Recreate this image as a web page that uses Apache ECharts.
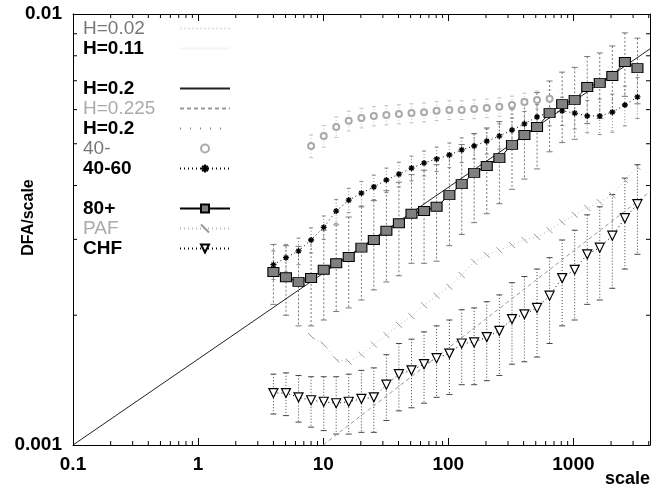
<!DOCTYPE html>
<html><head><meta charset="utf-8">
<script src="https://cdn.jsdelivr.net/npm/echarts@6/dist/echarts.min.js"></script>
<style>html,body{margin:0;padding:0;background:#fff}#c{width:653px;height:490px}</style>
</head><body><div id="c"></div>
<script>
// ---- data ----
const scales = [4, 5.04, 6.35, 8, 10.1, 12.7, 16, 20.2, 25.4, 32, 40.3, 50.8, 64, 80.6, 102, 128, 161, 203, 256, 323, 406, 512, 645, 813, 1024, 1290, 1625, 2048, 2580, 3251];
const scales40 = [8, 10.1, 12.7, 16, 20.2, 25.4, 32, 40.3, 50.8, 64, 80.6, 102, 128, 161, 203, 256, 323, 406, 512, 645];
const scalesPAF = [8, 10.1, 12.7, 16, 20.2, 25.4, 32, 40.3, 50.8, 64, 80.6, 102, 128, 161, 203, 256, 323, 406, 512, 645, 813, 1024, 1290, 1625, 2048, 2580, 3251];

const g40 = [0.00494, 0.00521, 0.00547, 0.00565, 0.00574, 0.00580, 0.00583, 0.00586, 0.00589, 0.00592, 0.00596, 0.00599, 0.00599, 0.00602, 0.00605, 0.00609, 0.00615, 0.00625, 0.00632, 0.00636];
const g40err = [0.0003, 0.0003, 0.0003, 0.0003, 0.0003, 0.0003, 0.0003, 0.0003, 0.0003, 0.0003, 0.0003, 0.0003, 0.0003, 0.0003, 0.0003, 0.0003, 0.0003, 0.0003, 0.0003, 0.0003];
const g4060 = [0.00262, 0.00272, 0.00282, 0.00299, 0.00320, 0.00349, 0.00370, 0.00384, 0.00397, 0.00412, 0.00425, 0.00439, 0.00451, 0.00461, 0.00471, 0.00484, 0.00494, 0.00507, 0.00521, 0.00538, 0.00556, 0.00577, 0.00592, 0.00596, 0.00589, 0.00580, 0.00580, 0.00592, 0.00615, 0.00642];
const g4060err = [0.0002, 0.0002, 0.0002, 0.0002, 0.0002, 0.00022, 0.00024, 0.00025, 0.00026, 0.00027, 0.00028, 0.00029, 0.0003, 0.0003, 0.00031, 0.00032, 0.00033, 0.00034, 0.00035, 0.00036, 0.00038, 0.0004, 0.00042, 0.00045, 0.00048, 0.0005, 0.00055, 0.0006, 0.00065, 0.0007];
const g80 = [0.00252, 0.00245, 0.00239, 0.00244, 0.00255, 0.00264, 0.00273, 0.00287, 0.00299, 0.00314, 0.00327, 0.00344, 0.00349, 0.00357, 0.00380, 0.00403, 0.00428, 0.00444, 0.00463, 0.00497, 0.00524, 0.00547, 0.00589, 0.00618, 0.00632, 0.00677, 0.00692, 0.00718, 0.00774, 0.00749];
const g80err = [0.0004, 0.00045, 0.0005, 0.00055, 0.0006, 0.0006, 0.00065, 0.0007, 0.0007, 0.00075, 0.0008, 0.0008, 0.00085, 0.0009, 0.0009, 0.00095, 0.001, 0.001, 0.001, 0.00105, 0.0011, 0.0011, 0.0011, 0.00115, 0.0012, 0.0012, 0.0012, 0.00125, 0.0013, 0.0013];
const paf = [0.00179, 0.00171, 0.00158, 0.00156, 0.00162, 0.00171, 0.00180, 0.00190, 0.00199, 0.00211, 0.00222, 0.00233, 0.00248, 0.00266, 0.00276, 0.00283, 0.00291, 0.00299, 0.00304, 0.00315, 0.00329, 0.00342, 0.00355, 0.00366, 0.00380, 0.00412, 0.00442];
const chf = [0.00132, 0.00132, 0.00129, 0.00127, 0.00126, 0.00125, 0.00126, 0.00128, 0.00129, 0.00138, 0.00146, 0.00149, 0.00154, 0.00159, 0.00163, 0.00172, 0.00173, 0.00178, 0.00184, 0.00196, 0.00201, 0.00208, 0.00222, 0.00244, 0.00255, 0.00277, 0.00287, 0.00306, 0.00336, 0.00362];
const chfErr = [0.00014, 0.00015, 0.00016, 0.00017, 0.00018, 0.00019, 0.0002, 0.00021, 0.00022, 0.00024, 0.00026, 0.00027, 0.00029, 0.0003, 0.00032, 0.00034, 0.00035, 0.00037, 0.00039, 0.00042, 0.00045, 0.00048, 0.0005, 0.00055, 0.0006, 0.00065, 0.0007, 0.00075, 0.0008, 0.00085];

// fitted power-law guide lines (end points)
const fit02X = [0.1, 4096];
const fit02Y = [0.001, 0.0083];
const fit0225X = [10, 4096];
const fit0225Y = [0.001, 0.00387];

const xTickLabels = ['0.1', '1', '10', '100', '1000'];
const yTickLabels = ['0.001', '0.01'];
const legendNames = ['H=0.02', 'H=0.11', '\u00a0', 'H=0.2', 'H=0.225', 'H=0.2\u200b', '40-', '40-60', '\u00a0\u00a0', '80+', 'PAF', 'CHF'];
const grayNames = ['H=0.02', '40-'];
const lightNames = ['H=0.225', 'PAF'];
const blankNames = ['\u00a0', '\u00a0\u00a0'];

// ---- chart ----
const X_MIN = 0.1, X_MAX = 4096, Y_MIN = 0.001, Y_MAX = 0.01;
const pts = (xs, ys) => xs.map((x, i) => [x, ys[i]]);
const errPts = (xs, ys, es) => xs.map((x, i) => [x, ys[i], es[i]]);
const NONE = 'rgba(0,0,0,0)';

function errRender(color, dash, cap) {
  return function (params, api) {
    const x = api.value(0), y = api.value(1), e = api.value(2);
    const t = api.coord([x, y + e]);
    const b = api.coord([x, y - e]);
    return { type: 'group', children: [
      { type: 'line', shape: { x1: t[0], y1: t[1], x2: b[0], y2: b[1] }, style: { stroke: color, lineWidth: 1, lineDash: dash } },
      { type: 'line', shape: { x1: t[0] - cap, y1: t[1], x2: t[0] + cap, y2: t[1] }, style: { stroke: color, lineWidth: 1 } },
      { type: 'line', shape: { x1: b[0] - cap, y1: b[1], x2: b[0] + cap, y2: b[1] }, style: { stroke: color, lineWidth: 1 } }
    ]};
  };
}

// minor ticks (2..9 per decade)
const xMinor = [], yMinor = [];
for (let d = -1; d <= 3; d++) for (let m = 2; m <= 9; m++) { const v = m * Math.pow(10, d); if (v < X_MAX) xMinor.push([v, Y_MIN]); }
for (let m = 2; m <= 9; m++) yMinor.push([X_MIN, m * 0.001]);

const chart = echarts.init(document.getElementById('c'), null, { renderer: 'canvas' });
const FONT = 'Liberation Sans, Arial, sans-serif';
const black = '#000';
const richBase = { fontFamily: FONT, fontSize: 19, width: 92, align: 'left', lineHeight: 19 };

const option = {
  animation: false,
  backgroundColor: '#fff',
  grid: { left: 73, right: 3, top: 14, bottom: 45, containLabel: false },
  legend: {
    data: legendNames,
    orient: 'vertical', left: 78, top: 14, align: 'right',
    itemWidth: 50, itemHeight: 10, itemGap: 1,
    selectedMode: false,
    formatter: name => {
      const k = blankNames.includes(name) ? 'w' : grayNames.includes(name) ? 'g' : lightNames.includes(name) ? 'l' : 'b';
      return '{' + k + '|' + name + '}';
    },
    textStyle: { fontFamily: FONT, fontSize: 19, padding: 0,
      rich: {
        b: Object.assign({}, richBase, { color: '#000', fontWeight: 'bold' }),
        g: Object.assign({}, richBase, { color: '#777', fontWeight: 'normal' }),
        l: Object.assign({}, richBase, { color: '#aaa', fontWeight: 'normal' }),
        w: Object.assign({}, richBase, { color: '#eee' })
      } }
  },
  xAxis: [{
    type: 'log', logBase: 10, min: X_MIN, max: X_MAX, position: 'bottom',
    name: 'scale', nameLocation: 'end', nameGap: 0, nameMoveOverlap: false,
    nameTextStyle: { fontFamily: FONT, fontSize: 18, fontWeight: 'bold', color: black, align: 'right', verticalAlign: 'top', padding: [25, 0, 0, 0] },
    axisLine: { show: true, lineStyle: { color: black, width: 1 } },
    axisTick: { show: true, inside: true, length: 7, lineStyle: { color: black } },
    axisLabel: { show: true, showMaxLabel: false, margin: 10, fontFamily: FONT, fontSize: 19, fontWeight: 'bold', color: black,
      formatter: v => { const k = Math.log10(v); const r = Math.round(k); return Math.abs(k - r) < 1e-6 ? (xTickLabels[r + 1] || '') : ''; } },
    splitLine: { show: false }
  }, {
    type: 'log', logBase: 10, min: X_MIN, max: X_MAX, position: 'top',
    axisLine: { show: true, lineStyle: { color: black, width: 1 } },
    axisTick: { show: true, inside: true, length: 7, lineStyle: { color: black } },
    axisLabel: { show: false }, splitLine: { show: false }
  }],
  yAxis: [{
    type: 'log', logBase: 10, min: Y_MIN, max: Y_MAX, position: 'left',
    name: 'DFA/scale', nameLocation: 'middle', nameGap: 36, nameRotate: 90, nameMoveOverlap: false,
    nameTextStyle: { fontFamily: FONT, fontSize: 16, fontWeight: 'bold', color: black, padding: [0, 0, 0, 24] },
    axisLine: { show: true, lineStyle: { color: black, width: 1 } },
    axisTick: { show: true, inside: true, length: 7, lineStyle: { color: black } },
    axisLabel: { show: true, margin: 11, fontFamily: FONT, fontSize: 19, fontWeight: 'bold', color: black,
      formatter: v => { const k = Math.log10(v); const r = Math.round(k); return Math.abs(k - r) < 1e-6 ? (yTickLabels[r + 3] || '') : ''; } },
    splitLine: { show: false }
  }, {
    type: 'log', logBase: 10, min: Y_MIN, max: Y_MAX, position: 'right',
    axisLine: { show: true, lineStyle: { color: black, width: 1 } },
    axisTick: { show: true, inside: true, length: 7, lineStyle: { color: black } },
    axisLabel: { show: false }, splitLine: { show: false }
  }],
  series: [
    { name: 'xminor', type: 'custom', data: xMinor, encode: { x: 0, y: 1 }, silent: true, z: 1,
      renderItem: (p, api) => { const v = api.value(0); const b = api.coord([v, Y_MIN]); const t = api.coord([v, Y_MAX]);
        return { type: 'group', children: [
          { type: 'line', shape: { x1: b[0], y1: b[1], x2: b[0], y2: b[1] - 4 }, style: { stroke: black, lineWidth: 1 } },
          { type: 'line', shape: { x1: t[0], y1: t[1], x2: t[0], y2: t[1] + 4 }, style: { stroke: black, lineWidth: 1 } } ] }; } },
    { name: 'yminor', type: 'custom', data: yMinor, encode: { x: 0, y: 1 }, silent: true, z: 1,
      renderItem: (p, api) => { const v = api.value(1); const l = api.coord([X_MIN, v]); const r = api.coord([X_MAX, v]);
        return { type: 'group', children: [
          { type: 'line', shape: { x1: l[0], y1: l[1], x2: l[0] + 4, y2: l[1] }, style: { stroke: black, lineWidth: 1 } },
          { type: 'line', shape: { x1: r[0], y1: r[1], x2: r[0] - 4, y2: r[1] }, style: { stroke: black, lineWidth: 1 } } ] }; } },

    { name: 'H=0.02', type: 'line', data: [], symbol: 'none', lineStyle: { color: '#e4e4e4', width: 1, type: 'dotted' }, itemStyle: { color: NONE } },
    { name: 'H=0.11', type: 'line', data: [], symbol: 'none', lineStyle: { color: '#f4f4f4', width: 1 }, itemStyle: { color: NONE } },
    { name: '\u00a0', type: 'line', data: [], symbol: 'none', lineStyle: { color: NONE, width: 1 }, itemStyle: { color: NONE } },
    { name: 'H=0.2', type: 'line', data: pts(fit02X, fit02Y), symbol: 'none', z: 3, lineStyle: { color: '#222', width: 1 }, itemStyle: { color: NONE } },
    { name: 'H=0.225', type: 'line', data: pts(fit0225X, fit0225Y), symbol: 'none', z: 3, lineStyle: { color: '#999', width: 1, type: [4, 3] }, itemStyle: { color: NONE } },
    { name: 'H=0.2\u200b', type: 'line', data: [], symbol: 'none', lineStyle: { color: '#888', width: 1, type: [1, 9] }, itemStyle: { color: NONE } },

    { name: 'err40', type: 'custom', data: errPts(scales40, g40, g40err), encode: { x: 0, y: 1 }, clip: true, z: 2, silent: true, renderItem: errRender('#c4c4c4', [1, 2], 2) },
    { name: 'err4060', type: 'custom', data: errPts(scales, g4060, g4060err), encode: { x: 0, y: 1 }, clip: true, z: 2, silent: true, renderItem: errRender('#888', [1, 2], 2) },
    { name: 'err80', type: 'custom', data: errPts(scales, g80, g80err), encode: { x: 0, y: 1 }, clip: true, z: 2, silent: true, renderItem: errRender('#777', [2, 2], 3) },
    { name: 'errCHF', type: 'custom', data: errPts(scales, chf, chfErr), encode: { x: 0, y: 1 }, clip: true, z: 2, silent: true, renderItem: errRender('#444', [1, 2], 3) },

    { name: '40-', type: 'line', data: pts(scales40, g40), symbol: 'emptyCircle', symbolSize: 6, showAllSymbol: true, z: 4,
      lineStyle: { opacity: 0, width: 0 }, itemStyle: { color: '#aaa', borderColor: '#aaa', borderWidth: 1 } },
    { name: '40-60', type: 'line', data: pts(scales, g4060), showAllSymbol: true, z: 5,
      symbol: 'path://M5,0L5,10M0,5L10,5M1.5,1.5L8.5,8.5M8.5,1.5L1.5,8.5', symbolSize: 6,
      lineStyle: { color: '#000', width: 1, type: [1, 3] }, itemStyle: { color: '#000', borderColor: '#000', borderWidth: 1.3 } },
    { name: '\u00a0\u00a0', type: 'line', data: [], symbol: 'none', lineStyle: { color: NONE }, itemStyle: { color: NONE } },
    { name: '80+', type: 'line', data: pts(scales, g80), symbol: 'rect', symbolSize: [11, 9], showAllSymbol: true, z: 6,
      lineStyle: { color: '#000', width: 1 }, itemStyle: { color: '#808080', borderColor: '#000', borderWidth: 1 } },
    { name: 'PAF', type: 'line', data: pts(scalesPAF, paf), showAllSymbol: true, z: 4,
      symbol: 'path://M0,0L10,10', symbolSize: 6,
      lineStyle: { color: '#b8b8b8', width: 1, type: [1, 3] }, itemStyle: { color: '#999', borderColor: '#999', borderWidth: 1 } },
    { name: 'CHF', type: 'line', data: pts(scales, chf), symbol: 'triangle', symbolRotate: 180, symbolSize: 9, showAllSymbol: true, z: 6,
      lineStyle: { color: '#000', width: 1, type: [1, 3] }, itemStyle: { color: '#fff', borderColor: '#000', borderWidth: 1.2 } }
  ]
};
chart.setOption(option);
</script>
</body></html>
